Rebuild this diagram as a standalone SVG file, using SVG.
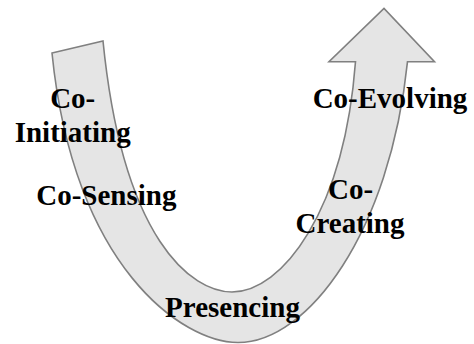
<svg xmlns="http://www.w3.org/2000/svg" width="474" height="344" viewBox="0 0 474 344">
<style>
.band{fill:#e5e5e5;stroke:#808080;stroke-width:1.6;stroke-linejoin:miter}
.lbl{font-family:"Liberation Serif","Times New Roman",serif;font-weight:bold;font-size:29px;fill:#000;text-anchor:middle}
</style>
<rect width="474" height="344" fill="#fff"/>
<g id="connectors">
<path id="u-arrow" class="band" d="M52,53 L103,41 C123,241 192,292 232,292 C282,292 344,212 355.5,61.7 L329,61.7 L384,8.5 L434.5,61.7 L407.5,61.7 C390,232 308,342.5 238,342.5 C183,342.5 73.5,268 52,53 Z"/>
</g>
<g id="co-initiating"><text class="lbl" x="72.7" y="108">Co-</text><text class="lbl" x="72.7" y="142">Initiating</text></g>
<g id="co-sensing"><text class="lbl" x="106.3" y="205">Co-Sensing</text></g>
<g id="presencing"><text class="lbl" x="232.5" y="317">Presencing</text></g>
<g id="co-creating"><text class="lbl" x="350.5" y="198.7">Co-</text><text class="lbl" x="350" y="233">Creating</text></g>
<g id="co-evolving"><text class="lbl" x="390" y="108">Co-Evolving</text></g>
</svg>
